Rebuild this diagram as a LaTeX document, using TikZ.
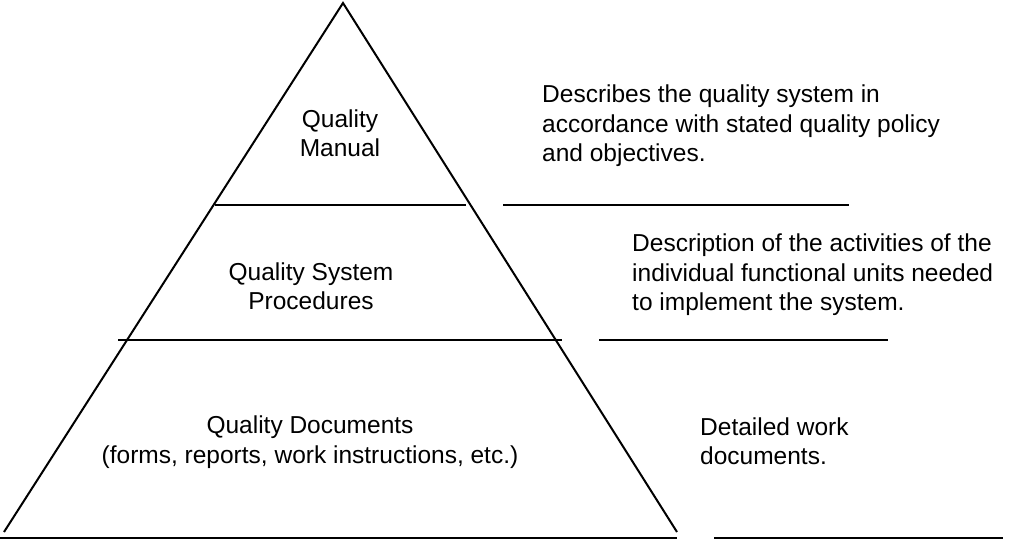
\documentclass[tikz,border=0pt]{standalone}
\usepackage{fontspec}
\setmainfont{Liberation Sans}
\begin{document}
\begin{tikzpicture}
[x=1pt,y=-1pt,%
  lineDecorate/.style={-,line width=2pt},%
  textDecorate/.style={inner sep=0pt,font=\fontsize{24.5}{29.5}\selectfont}]
\useasboundingbox (0,0) rectangle (1026,539);
%% corners of the pyramid
\coordinate (apex) at (343,3);
\coordinate (left) at (4,532);
\coordinate (right) at (677,532);
\draw[lineDecorate,line join=miter] (left) -- (apex) -- (right);
%% horizontal lines
\foreach \startname/\endname/\xa/\xb/\y in {
  la/lb/0/677/538, ma/mb/215/466/205, na/nb/118/562/340,
  ra/rb/503/849/205, sa/sb/599/888/340, ta/tb/714/1003/538}
{
  \coordinate (\startname) at (\xa,\y);
  \coordinate (\endname) at (\xb,\y);
  \draw[lineDecorate] (\startname) -- (\endname);
}
%% labels inside the pyramid
\node (manual) at (340,133) [textDecorate,align=center] {Quality\\Manual};
\node (procedures) at (311,286) [textDecorate,align=center] {Quality System\\Procedures};
\node (documents) at (310,442) [textDecorate,align=center]
  {Quality Documents\\(forms, reports, work instructions, etc.)};
%% descriptions on the right
\node (manualtext) at (542,126) [textDecorate,anchor=west,align=left]
  {Describes the quality system in\\accordance with stated quality policy\\and objectives.};
\node (proceduretext) at (632,275) [textDecorate,anchor=west,align=left]
  {Description of the activities of the\\individual functional units needed\\to implement the system.};
\node (documenttext) at (700,441) [textDecorate,anchor=west,align=left]
  {Detailed work\\documents.};
\end{tikzpicture}
\end{document}
